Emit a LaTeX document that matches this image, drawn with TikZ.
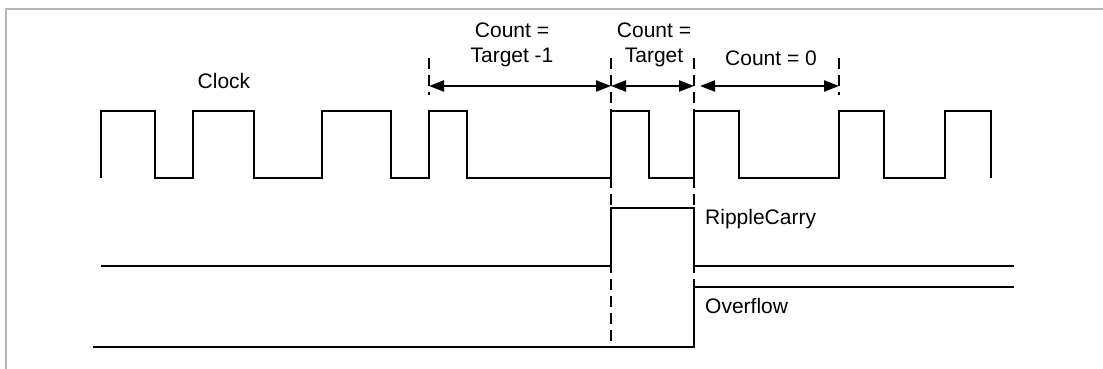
\documentclass[tikz,border=0pt]{standalone}
\usepackage{fontspec}
\setmainfont{Liberation Sans}
\usepackage{tikz}
\usetikzlibrary{arrows.meta, positioning, calc}
\definecolor{FrameGray}{HTML}{B4B4B4}

\begin{document}
\begin{tikzpicture}[
  x=1pt, y=-1pt,
  wave/.style={draw=black, line width=1.8pt, line join=miter},
  marker/.style={draw=black, line width=1.4pt, dash pattern=on 11pt off 6pt},
  dimarrow/.style={draw=black, line width=2.2pt, {Triangle[length=15pt,width=11pt]}-{Triangle[length=15pt,width=11pt]}},
  lbl/.style={font=\fontsize{21}{25}\selectfont, inner sep=0pt, align=center},
  ]
  \useasboundingbox (0,0) rectangle (1103,369);
  % frame
  \draw[FrameGray, line width=2pt] (6,369) -- (6,9) -- (1103,9);

  % marker positions
  \coordinate (mA) at (429,58);
  \coordinate (mB) at (611,58);
  \coordinate (mC) at (694,58);
  \coordinate (mD) at (839,58);
  \draw[marker] (mA) -- ++(0,37);
  \draw[marker] (mB) -- ++(0,290);
  \draw[marker] (mC) -- ++(0,290);
  \draw[marker] (mD) -- ++(0,37);

  % interval arrows
  \coordinate (tA) at (429,86);
  \coordinate (tB) at (611,86);
  \coordinate (tC) at (694,86);
  \coordinate (tD) at (839,86);
  \draw[dimarrow] (tA) -- (tB);
  \draw[dimarrow] (tB) -- (tC);
  \draw[dimarrow] ([xshift=6pt]tC) -- (tD);

  % labels
  \node[lbl] (clk) at (224,81) {Clock};
  \node[lbl] (cntA) at (512,45) {Count =\\Target -1};
  \node[lbl] (cntB) at (654,45) {Count =\\Target};
  \node[lbl] (cntC) at (771,58) {Count = 0};
  \node[lbl, anchor=west] (rc) at (705,219) {RippleCarry};
  \node[lbl, anchor=west] (ovf) at (705,306) {Overflow};

  % clock
  \draw[wave] (101,178) -- (101,111) -- (155,111) -- (155,178) -- (193,178)
    -- (193,111) -- (254,111) -- (254,178) -- (322,178) -- (322,111)
    -- (391,111) -- (391,178) -- (429,178) -- (429,111) -- (467,111)
    -- (467,178) -- (611,178) -- (611,111) -- (649,111) -- (649,178)
    -- (694,178) -- (694,111) -- (739,111) -- (739,178) -- (839,178)
    -- (839,111) -- (884,111) -- (884,178) -- (945,178) -- (945,111)
    -- (991,111) -- (991,178);

  % ripple carry
  \draw[wave] (101,266) -- (611,266) -- (611,208) -- (694,208) -- (694,266) -- (1014,266);

  % overflow
  \draw[wave] (93,347) -- (694,347) -- (694,287) -- (1014,287);
\end{tikzpicture}
\end{document}
